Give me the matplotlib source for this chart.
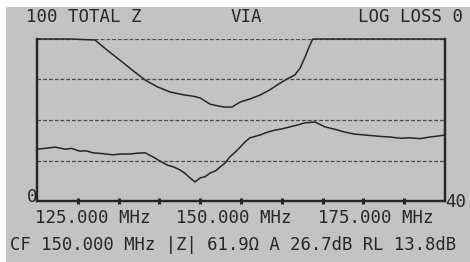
import numpy as np
import matplotlib
matplotlib.use("Agg")
import matplotlib.pyplot as plt
from matplotlib.patches import Rectangle

# |Z| trace (ohm, left scale 0..100)
z_freq = [100.0, 108.0, 114.2, 117.0, 120.3, 123.5, 126.5, 129.5, 132.6, 136.0, 138.5,
          140.0, 142.4, 144.5, 146.1, 147.8, 149.8, 152.0, 154.7, 157.0, 159.6,
          161.5, 163.2, 164.5, 165.7, 166.9, 167.6, 170.0, 180.0, 200.0]
z_ohm = [135.0, 115.0, 99.4, 93.5, 87.0, 80.5, 74.7, 70.5, 67.3, 65.5, 64.6,
         63.6, 59.8, 58.6, 58.0, 58.0, 61.1, 62.8, 65.4, 68.5, 72.8,
         75.6, 77.8, 82.1, 88.9, 96.3, 100.0, 110.0, 130.0, 150.0]

# loss trace (dB, right scale 0..40, inverted)
rl_freq = [100.0, 102.0, 104.4, 106.9, 108.5, 110.5, 112.0, 113.7, 116.0, 118.6, 120.5,
           122.8, 124.5, 126.5, 128.4, 130.1, 131.9, 133.5, 135.0, 136.3, 137.5,
           138.7, 140.0, 141.2, 142.4, 143.7, 144.9, 146.1, 147.3, 148.5, 149.8,
           151.0, 152.2, 154.7, 156.5, 158.3, 160.0, 162.0, 164.0, 165.7, 168.1,
           170.6, 173.0, 175.5, 178.0, 180.4, 183.5, 186.5, 189.0, 191.4, 194.0,
           196.3, 198.0, 200.0]
rl_db = [27.2, 27.0, 26.7, 27.2, 27.0, 27.7, 27.6, 28.1, 28.3, 28.6, 28.4,
         28.4, 28.2, 28.1, 29.1, 30.1, 31.1, 31.6, 32.3, 33.2, 34.3,
         35.3, 34.3, 34.0, 33.1, 32.6, 31.6, 30.6, 29.1, 28.0, 26.7,
         25.4, 24.4, 23.7, 23.0, 22.5, 22.2, 21.7, 21.2, 20.7, 20.5,
         21.7, 22.3, 23.0, 23.5, 23.7, 24.0, 24.2, 24.5, 24.4, 24.6,
         24.2, 24.0, 23.7]

top_left = "100 TOTAL Z"
title = "VIA"
top_right = "LOG LOSS 0"
freq_labels = ["125.000 MHz", "150.000 MHz", "175.000 MHz"]
status = "CF 150.000 MHz |Z| 61.9\u03a9 A 26.7dB RL 13.8dB"

W, H = 470, 262
bg = "#c3c3c3"
ink = "#262626"
mono = ["DejaVu Sans Mono"]

fig = plt.figure(figsize=(W / 100, H / 100), dpi=100, facecolor="white")
fig.patches.append(Rectangle((6 / W, 0), 1, (H - 7) / H, transform=fig.transFigure,
                             facecolor=bg, edgecolor="none", zorder=-10))

x0, x1, y0, y1 = 37, 445, 39, 201
ax = fig.add_axes([x0 / W, (H - y1) / H, (x1 - x0) / W, (y1 - y0) / H])
ax.patch.set_alpha(0)
ax.set_xlim(100, 200)
ax.set_ylim(0, 100)

# grid
for g in [25, 50, 75, 100]:
    ax.axhline(g, color="#4a4a4a", lw=0.9, ls=(0, (3, 1.6)), zorder=1)

# the instrument pins the trace to the top edge when off scale
ax.plot(z_freq, np.clip(z_ohm, 0, 100), color=ink, lw=1.1, zorder=3, clip_on=False)

ax2 = ax.twinx()
ax2.set_ylim(40, 0)
ax2.plot(rl_freq, rl_db, color=ink, lw=1.1, zorder=3)

for a in (ax, ax2):
    a.spines["top"].set_visible(False)
    for s in ["left", "right", "bottom"]:
        a.spines[s].set_color(ink)
        a.spines[s].set_linewidth(1.6)
    a.set_yticks([])

ax.set_xticks(np.arange(110, 200, 10))
ax.set_xticklabels([])
ax.tick_params(axis="x", direction="inout", length=4, width=2.2, color=ink)
ax2.tick_params(axis="x", length=0)

def ftext(x, y, s, ha="left", size=12.5):
    fig.text(x / W, 1 - y / H, s, ha=ha, va="center", fontsize=size,
             family=mono, color=ink)

ftext(26, 17, top_left)
ftext(246, 17, title, ha="center")
ftext(463, 17, top_right, ha="right")
ftext(27, 197, "0")
ftext(445, 202, "40")
for cx, lab in zip([93, 234, 376], freq_labels):
    ftext(cx, 218, lab, ha="center")
ftext(233, 245, status, ha="center", size=12.4)

fig.savefig("out.png", dpi=100, facecolor=fig.get_facecolor())
